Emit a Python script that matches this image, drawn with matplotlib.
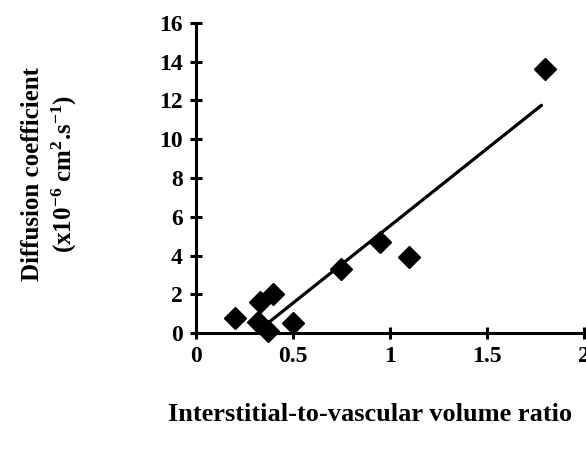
import matplotlib
matplotlib.use("Agg")
import matplotlib.pyplot as plt

# ── data ─────────────────────────────────────────────────────────────────────
ratio = [0.20, 0.32, 0.33, 0.37, 0.40, 0.50, 0.75, 0.95, 1.10, 1.80]
diff_coef = [0.8, 0.55, 1.6, 0.1, 2.0, 0.5, 3.3, 4.7, 3.95, 13.6]

# regression line end points
fit_x = [0.35, 1.78]
fit_y = [0.35, 11.75]

x_ticks = [0, 0.5, 1, 1.5, 2]
x_tick_labels = ["0", "0.5", "1", "1.5", "2"]
y_ticks = [0, 2, 4, 6, 8, 10, 12, 14, 16]

plt.rcParams["font.family"] = ["Liberation Serif", "DejaVu Serif"]
plt.rcParams["font.weight"] = "bold"
plt.rcParams["mathtext.fontset"] = "custom"
plt.rcParams["mathtext.rm"] = "Liberation Serif:bold"
plt.rcParams["mathtext.it"] = "Liberation Serif:bold"
plt.rcParams["mathtext.default"] = "rm"

fig = plt.figure(figsize=(5.86, 4.57), dpi=100)
ax = fig.add_axes([0.334, 0.271, 0.663, 0.679])

ax.plot(ratio, diff_coef, linestyle="none", marker="D", markersize=11.5,
        color="black", zorder=3, clip_on=False)
ax.plot(fit_x, fit_y, color="black", linewidth=2.3, solid_capstyle="round")

ax.set_xlim(0, 2)
ax.set_ylim(0, 16)
ax.set_xticks(x_ticks)
ax.set_xticklabels(x_tick_labels)
ax.set_yticks(y_ticks)

for side in ("top", "right"):
    ax.spines[side].set_visible(False)
for side in ("left", "bottom"):
    ax.spines[side].set_linewidth(2.2)

ax.tick_params(direction="inout", length=9, width=2.2, labelsize=17, pad=5)
for lbl in ax.get_xticklabels() + ax.get_yticklabels():
    lbl.set_fontweight("bold")

fig.text(0.632, 0.092, "Interstitial-to-vascular volume ratio",
         ha="center", va="center", fontsize=19, fontweight="bold")
fig.text(0.085, 0.62, "Diffusion coefficient\n"
         r"(x10$^{-6}$ cm$^{2}$.s$^{-1}$)",
         ha="center", va="center", rotation=90, fontsize=18,
         fontweight="bold", linespacing=1.25)

fig.savefig("out.png", dpi=100)
